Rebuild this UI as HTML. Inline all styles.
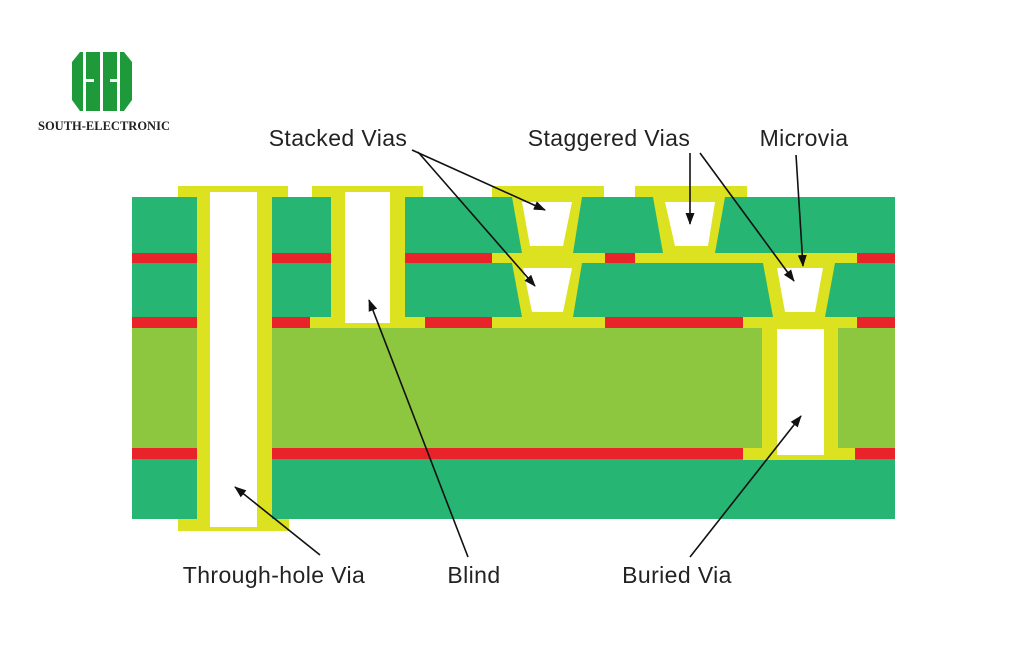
<!DOCTYPE html>
<html><head><style>body{margin:0;background:#fff;}svg{display:block}</style></head><body>
<svg width="1024" height="652" viewBox="0 0 1024 652" xmlns="http://www.w3.org/2000/svg">
<defs><marker id="a" markerWidth="12" markerHeight="9" refX="11" refY="4.5" orient="auto" markerUnits="userSpaceOnUse"><path d="M0,0 L12,4.5 L0,9 z" fill="#111"/></marker></defs>
<path d="M72,62 L80,52 L124,52 L132,62 L132,100 L124,111 L80,111 L72,100 Z" fill="#1f9a3a"/>
<g fill="#fff">
<rect x="83" y="50" width="3" height="63"/><rect x="100" y="50" width="3" height="63"/><rect x="117" y="50" width="3" height="63"/>
<rect x="86" y="79" width="8" height="3"/><rect x="110" y="79" width="7" height="3"/>
</g>
<text x="38" y="130" font-family="Liberation Serif,serif" font-weight="bold" font-size="12.5" fill="#222">SOUTH-ELECTRONIC</text>
<rect x="132" y="197" width="763" height="56" fill="#27b573"/>
<rect x="132" y="263" width="763" height="54" fill="#27b573"/>
<rect x="132" y="328" width="763" height="120" fill="#8dc63f"/>
<rect x="132" y="459" width="763" height="60" fill="#27b573"/>
<rect x="405" y="197" width="490" height="131" fill="#dce21f"/>
<g fill="#27b573">
<polygon points="405,197 512,197 522,253 405,253"/>
<polygon points="582,197 653,197 663,253 573,253"/>
<polygon points="725,197 895,197 895,253 715,253"/>
<polygon points="405,263 512,263 522,317 405,317"/>
<polygon points="582,263 763,263 773,317 573,317"/>
<polygon points="835,263 895,263 895,317 825,317"/>
</g>
<g fill="#e8232a">
<rect x="132" y="253" width="65" height="10"/><rect x="272" y="253" width="59" height="10"/><rect x="405" y="253" width="87" height="10"/><rect x="605" y="253" width="30" height="10"/><rect x="857" y="253" width="38" height="10"/>
<rect x="132" y="317" width="65" height="11"/><rect x="272" y="317" width="38" height="11"/><rect x="425" y="317" width="67" height="11"/><rect x="605" y="317" width="138" height="11"/><rect x="857" y="317" width="38" height="11"/>
<rect x="132" y="448" width="65" height="11"/><rect x="272" y="448" width="471" height="11"/><rect x="855" y="448" width="40" height="11"/>
</g>
<g fill="#dce21f">
<rect x="178" y="186" width="110" height="11"/><rect x="197" y="186" width="75" height="345"/><rect x="178" y="519" width="111" height="12"/>
<rect x="312" y="186" width="111" height="11"/><rect x="331" y="186" width="74" height="142"/><rect x="310" y="317" width="115" height="11"/>
<rect x="492" y="186" width="112" height="11"/>
<rect x="635" y="186" width="112" height="11"/>
<rect x="492" y="253" width="113" height="10"/><rect x="635" y="253" width="222" height="10"/>
<rect x="492" y="317" width="113" height="11"/><rect x="743" y="317" width="114" height="11"/>
<rect x="762" y="317" width="76" height="143"/><rect x="743" y="448" width="112" height="12"/>
</g>
<g fill="#fff">
<rect x="210" y="192" width="47" height="335"/>
<rect x="345" y="192" width="45" height="131"/>
<polygon points="522,202 572,202 563,246 530,246"/>
<polygon points="523,268 572,268 563,312 532,312"/>
<polygon points="665,202 715,202 708,246 675,246"/>
<polygon points="777,268 823,268 815,312 785,312"/>
<rect x="777" y="329" width="47" height="126"/>
</g>
<g stroke="#111" stroke-width="1.6" marker-end="url(#a)">
<line x1="412" y1="150" x2="545" y2="210"/>
<line x1="418" y1="152" x2="535" y2="286"/>
<line x1="690" y1="153" x2="690" y2="224"/>
<line x1="700" y1="153" x2="794" y2="281"/>
<line x1="796" y1="155" x2="803" y2="266"/>
<line x1="320" y1="555" x2="235" y2="487"/>
<line x1="468" y1="557" x2="369" y2="300"/>
<line x1="690" y1="557" x2="801" y2="416"/>
</g>
<g font-family="Liberation Sans,sans-serif" font-size="23" fill="#222" text-anchor="middle" letter-spacing="0.4">
<text x="338" y="146">Stacked Vias</text>
<text x="609" y="146">Staggered Vias</text>
<text x="804" y="146">Microvia</text>
<text x="274" y="583">Through-hole Via</text>
<text x="474" y="583">Blind</text>
<text x="677" y="583">Buried Via</text>
</g>
</svg>
</body></html>
